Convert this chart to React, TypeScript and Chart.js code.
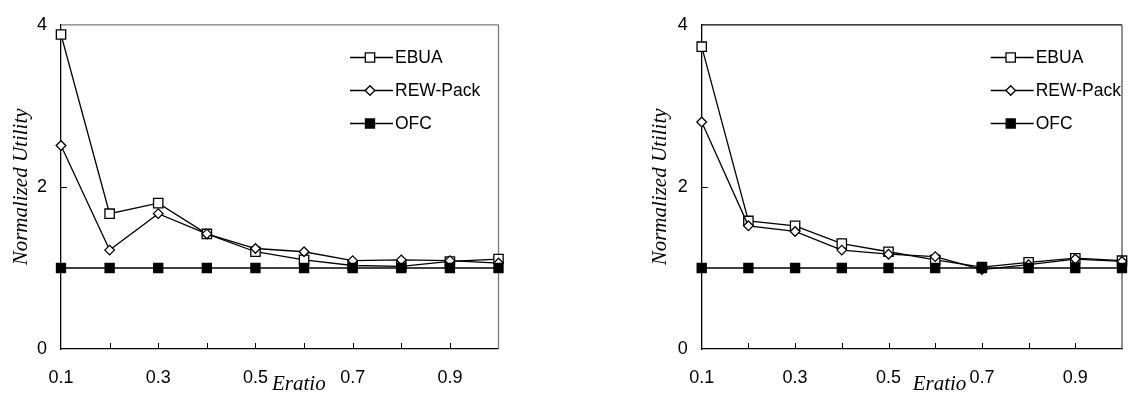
import React, { useEffect, useRef } from 'react';
import { Chart, registerables } from 'chart.js';

Chart.register(...registerables);

// ---- data ----
const eratioLabels = ['0.1', '0.2', '0.3', '0.4', '0.5', '0.6', '0.7', '0.8', '0.9', '1.0'];
const shownTickLabels = ['0.1', '0.3', '0.5', '0.7', '0.9'];
const yTickValues = [0, 2, 4];
const seriesNames = ['EBUA', 'REW-Pack', 'OFC'];

const leftEBUA = [3.88, 1.67, 1.8, 1.42, 1.2, 1.1, 1.03, 1.02, 1.08, 1.11];
const leftREW = [2.51, 1.22, 1.67, 1.42, 1.24, 1.2, 1.09, 1.1, 1.09, 1.06];
const leftOFC = [1, 1, 1, 1, 1, 1, 1, 1, 1, 1];

const rightEBUA = [3.73, 1.58, 1.52, 1.3, 1.2, 1.1, 1.01, 1.07, 1.12, 1.09];
const rightREW = [2.8, 1.52, 1.45, 1.22, 1.17, 1.14, 0.98, 1.04, 1.11, 1.08];
const rightOFC = [1, 1, 1, 1, 1, 1, 1, 1, 1, 1];

const xAxisTitle = 'Eratio';
const yAxisTitle = 'Normalized Utility';

const SANS = '"Liberation Sans", Arial, Helvetica, sans-serif';
const SERIF = '"Liberation Serif", "Times New Roman", serif';

function drawMarker(ctx: CanvasRenderingContext2D, style: string, r: number, x: number, y: number, fill: string) {
  ctx.beginPath();
  if (style === 'rectRot') {
    ctx.moveTo(x - r, y);
    ctx.lineTo(x, y - r);
    ctx.lineTo(x + r, y);
    ctx.lineTo(x, y + r);
    ctx.closePath();
  } else {
    const s = r * Math.SQRT1_2;
    ctx.rect(x - s, y - s, 2 * s, 2 * s);
  }
  ctx.fillStyle = fill;
  ctx.fill();
  ctx.stroke();
}

const decorPlugin = {
  id: 'decor',
  beforeDatasetsDraw(chart: any, _args: any, opts: any) {
    const { ctx, chartArea } = chart;
    const { left, right, top, bottom } = chartArea;
    const xs = chart.scales.x;
    const ys = chart.scales.y;
    ctx.save();
    ctx.lineWidth = 1.3;
    ctx.strokeStyle = opts.topColor;
    ctx.beginPath();
    ctx.moveTo(left, top);
    ctx.lineTo(right, top);
    ctx.stroke();
    ctx.strokeStyle = opts.rightColor;
    ctx.beginPath();
    ctx.moveTo(right, top);
    ctx.lineTo(right, bottom);
    ctx.stroke();
    // inner tick marks
    ctx.strokeStyle = '#000';
    ctx.lineWidth = 1;
    ctx.beginPath();
    for (let i = 1; i < eratioLabels.length - 1; i++) {
      const px = Math.round(xs.getPixelForValue(i)) + 0.5;
      ctx.moveTo(px, bottom);
      ctx.lineTo(px, bottom - 6);
    }
    yTickValues.forEach((v) => {
      if (v > ys.min && v < ys.max) {
        const py = Math.round(ys.getPixelForValue(v)) + 0.5;
        ctx.moveTo(left, py);
        ctx.lineTo(left + 6, py);
      }
    });
    ctx.stroke();
    ctx.restore();
  },
  afterDraw(chart: any) {
    const { ctx, chartArea } = chart;
    const { left, top } = chartArea;
    ctx.save();
    // x axis title
    ctx.font = 'italic 21px ' + SERIF;
    ctx.fillStyle = '#000';
    ctx.textAlign = 'left';
    ctx.textBaseline = 'alphabetic';
    ctx.fillText(xAxisTitle, left + 211, 390);
    // legend
    const lx = left + 289;
    chart.data.datasets.forEach((ds: any, i: number) => {
      const ly = Math.round(top + 32 + i * 33.3) + 0.5;
      ctx.strokeStyle = '#000';
      ctx.lineWidth = 1.3;
      ctx.beginPath();
      ctx.moveTo(lx, ly);
      ctx.lineTo(lx + 43, ly);
      ctx.stroke();
      drawMarker(ctx, ds.pointStyle, ds.pointRadius, lx + 20, ly, ds.pointBackgroundColor);
      ctx.fillStyle = '#000';
      ctx.font = '17.5px ' + SANS;
      ctx.textBaseline = 'middle';
      ctx.fillText(ds.label, lx + 45, ly + 1);
    });
    ctx.restore();
  },
};

type PanelProps = {
  ebua: number[];
  rew: number[];
  ofc: number[];
  canvasLeft: number;
  canvasWidth: number;
  yAxisWidth: number;
  rightPad: number;
  titlePad: number;
  topColor: string;
  rightColor: string;
};

function Panel(p: PanelProps) {
  const ref = useRef<HTMLCanvasElement>(null);
  useEffect(() => {
    if (!ref.current) return;
    const chart = new Chart(ref.current, {
      type: 'line',
      data: {
        labels: eratioLabels,
        datasets: [
          {
            label: seriesNames[0],
            data: p.ebua,
            borderColor: '#000',
            borderWidth: 1.3,
            pointStyle: 'rect',
            pointRadius: 6.6,
            pointBorderWidth: 1.3,
            pointBorderColor: '#000',
            pointBackgroundColor: '#fff',
            clip: false,
            order: 2,
          },
          {
            label: seriesNames[1],
            data: p.rew,
            borderColor: '#000',
            borderWidth: 1.3,
            pointStyle: 'rectRot',
            pointRadius: 4.8,
            pointBorderWidth: 1.3,
            pointBorderColor: '#000',
            pointBackgroundColor: '#fff',
            clip: false,
            order: 1,
          },
          {
            label: seriesNames[2],
            data: p.ofc,
            borderColor: '#000',
            borderWidth: 1.5,
            pointStyle: 'rect',
            pointRadius: 6.4,
            pointBorderWidth: 1.3,
            pointBorderColor: '#000',
            pointBackgroundColor: '#000',
            clip: false,
            order: 0,
          },
        ] as any,
      },
      options: {
        responsive: false,
        animation: false,
        layout: { padding: { left: 0, top: 20, right: p.rightPad, bottom: 0 } },
        plugins: {
          legend: { display: false },
          tooltip: { enabled: false },
          decor: { topColor: p.topColor, rightColor: p.rightColor },
        } as any,
        scales: {
          x: {
            type: 'category',
            offset: false,
            grid: { display: false, drawTicks: false },
            border: { display: true, color: '#000', width: 1.3 },
            ticks: {
              autoSkip: false,
              maxRotation: 0,
              padding: 18,
              color: '#000',
              font: { family: SANS, size: 18 },
              callback: function (this: any, _v: any, idx: number) {
                const lab = eratioLabels[idx];
                return shownTickLabels.includes(lab) ? lab : '';
              },
            },
            afterFit: (scale: any) => {
              scale.height = 46;
            },
          },
          y: {
            type: 'linear',
            min: 0,
            max: 4,
            afterBuildTicks: (scale: any) => {
              scale.ticks = yTickValues.map((v) => ({ value: v }));
            },
            grid: { display: false, drawTicks: false },
            border: { display: true, color: '#000', width: 1.3 },
            ticks: {
              padding: 14,
              color: '#000',
              font: { family: SANS, size: 18 },
            },
            title: {
              display: true,
              text: yAxisTitle,
              color: '#000',
              font: { family: SERIF, size: 21, style: 'italic', weight: 'normal' },
              padding: { top: p.titlePad, bottom: 0 },
            },
            afterFit: (scale: any) => {
              scale.width = p.yAxisWidth;
            },
          },
        },
      } as any,
      plugins: [decorPlugin as any],
    });
    return () => chart.destroy();
  }, []);
  return (
    <canvas
      ref={ref}
      width={p.canvasWidth}
      height={395}
      style={{ position: 'absolute', left: p.canvasLeft, top: 0, width: p.canvasWidth, height: 395, display: 'block' }}
    />
  );
}

export default function App() {
  return (
    <div style={{ position: 'absolute', left: 0, top: 0, width: 1140, height: 395, background: '#fff', overflow: 'hidden' }}>
      <Panel
        ebua={leftEBUA}
        rew={leftREW}
        ofc={leftOFC}
        canvasLeft={0}
        canvasWidth={520}
        yAxisWidth={61}
        rightPad={21.5}
        titlePad={9}
        topColor="#7a7a7a"
        rightColor="#7a7a7a"
      />
      <Panel
        ebua={rightEBUA}
        rew={rightREW}
        ofc={rightOFC}
        canvasLeft={620}
        canvasWidth={520}
        yAxisWidth={81.7}
        rightPad={0.7}
        titlePad={27.4}
        topColor="#000"
        rightColor="#555"
      />
    </div>
  );
}
